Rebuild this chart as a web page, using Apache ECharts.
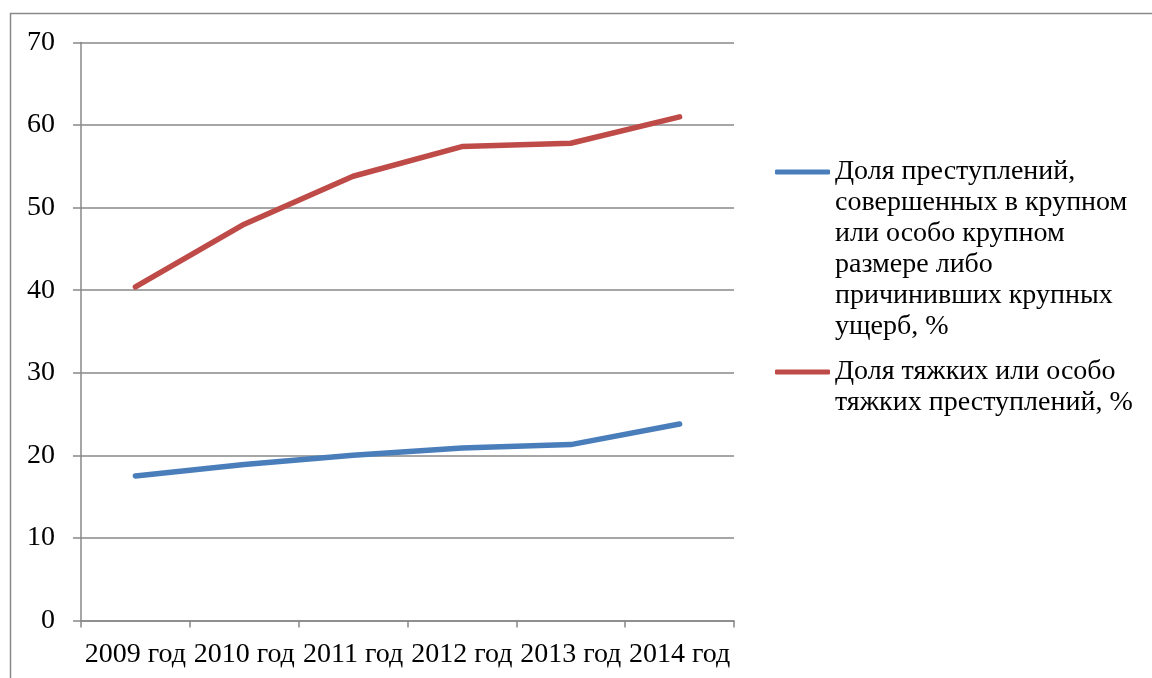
<!DOCTYPE html>
<html>
<head>
<meta charset="utf-8">
<script src="https://cdn.jsdelivr.net/npm/echarts@6/dist/echarts.min.js"></script>
<style>
html,body{margin:0;padding:0;background:#fff;}
#c{width:1152px;height:678px;}
</style>
</head>
<body>
<div id="c"></div>
<script>
const categories = ['2009 год','2010 год','2011 год','2012 год','2013 год','2014 год'];
const seriesNames = [
  'Доля преступлений,\nсовершенных в крупном\nили особо крупном\nразмере либо\nпричинивших крупных\nущерб, %',
  'Доля тяжких или особо\nтяжких преступлений, %'
];
const shareLarge = [17.5, 18.9, 20.0, 20.9, 21.3, 23.8];
const shareGrave = [40.4, 48.0, 53.8, 57.4, 57.8, 61.0];
const yTicks = [0, 10, 20, 30, 40, 50, 60, 70];

const FONT = 'Liberation Serif';
const FS = 28;
const LH = 31;
const colors = ['#4A7EBB', '#BE4B48'];

function pad(name) {
  const lines = name.split('\n').length;
  return '\n'.repeat(lines - 1) + name;
}

const chart = echarts.init(document.getElementById('c'));
chart.setOption({
  animation: false,
  backgroundColor: '#fff',
  graphic: [{
    type: 'rect',
    shape: {x: 10.5, y: 13.5, width: 1300, height: 800},
    style: {fill: 'none', stroke: '#8a8a8a', lineWidth: 1.5},
    silent: true, z: -10
  }],
  grid: {left: 81, right: 418, top: 42.5, bottom: 57.5, containLabel: false},
  legend: [
    {
      data: [seriesNames[0]], orient: 'vertical', left: 775, top: 1.5, padding: 0,
      itemWidth: 55, itemHeight: 5, icon: 'roundRect',
      formatter: n => pad(n),
      textStyle: {fontFamily: FONT, fontSize: FS, lineHeight: LH, color: '#000'}
    },
    {
      data: [seriesNames[1]], orient: 'vertical', left: 775, top: 325.5, padding: 0,
      itemWidth: 55, itemHeight: 5, icon: 'roundRect',
      formatter: n => pad(n),
      textStyle: {fontFamily: FONT, fontSize: FS, lineHeight: LH, color: '#000'}
    }
  ],
  xAxis: {
    type: 'category', data: categories, boundaryGap: true,
    axisLine: {lineStyle: {color: '#888', width: 1.5}},
    axisTick: {show: true, length: 7, lineStyle: {color: '#888', width: 1.5}},
    axisLabel: {fontFamily: FONT, fontSize: FS, color: '#000', margin: 20, interval: 0}
  },
  yAxis: {
    type: 'value', min: yTicks[0], max: yTicks[yTicks.length - 1], interval: 10,
    axisLine: {show: true, lineStyle: {color: '#888', width: 1.5}},
    axisTick: {show: true, length: 8, lineStyle: {color: '#888', width: 1.5}},
    splitLine: {show: true, lineStyle: {color: '#888', width: 1.5}},
    axisLabel: {fontFamily: FONT, fontSize: FS, color: '#000', margin: 26}
  },
  series: [
    {
      name: seriesNames[0], type: 'line', data: shareLarge, symbol: 'none',
      lineStyle: {color: colors[0], width: 5.5, cap: 'round', join: 'round'},
      itemStyle: {color: colors[0]}
    },
    {
      name: seriesNames[1], type: 'line', data: shareGrave, symbol: 'none',
      lineStyle: {color: colors[1], width: 5.5, cap: 'round', join: 'round'},
      itemStyle: {color: colors[1]}
    }
  ]
});
</script>
</body>
</html>
